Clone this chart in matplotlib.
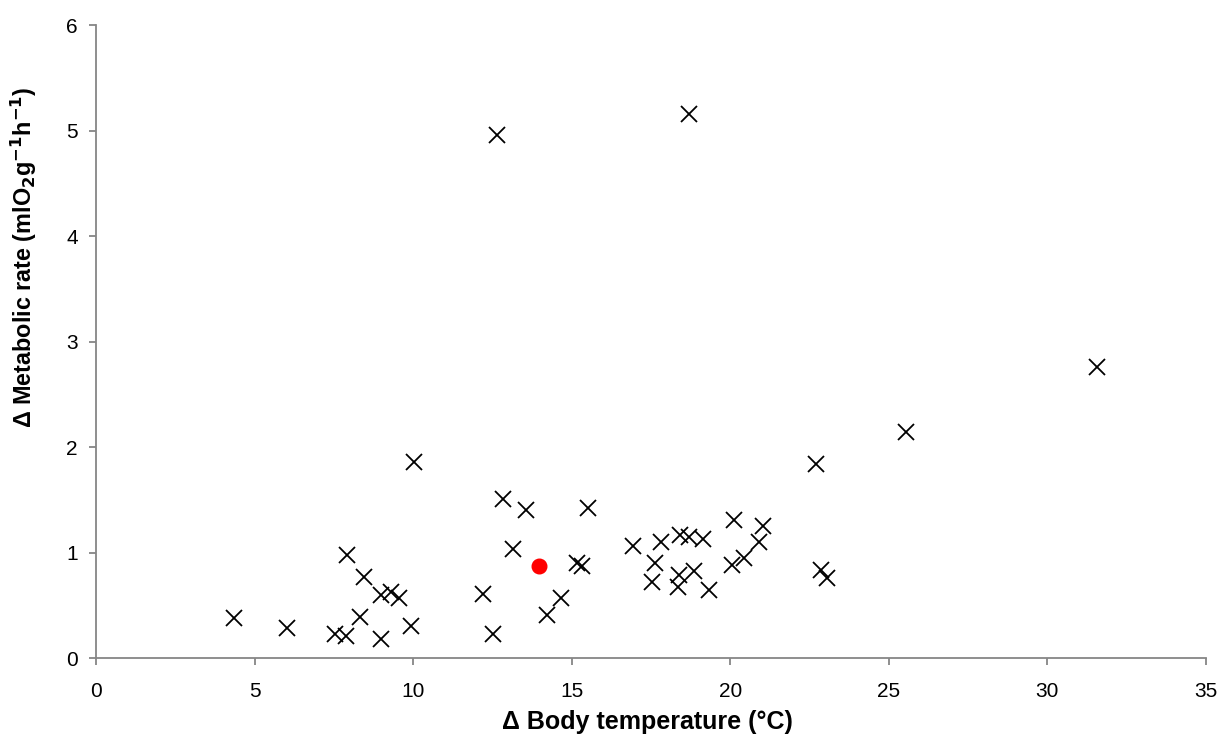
import matplotlib.pyplot as plt

plt.rcParams['font.family'] = ['Liberation Sans', 'DejaVu Sans']

# Delta body temperature (C) and delta metabolic rate (ml O2 g-1 h-1)
body_temp = [4.35, 6.02, 7.54, 7.88, 7.91, 8.45, 8.33, 9.0, 9.0, 9.29, 9.55, 9.92,
             10.03, 12.84, 13.56, 15.52, 13.15, 15.16, 15.31, 16.93, 12.2, 14.65,
             14.22, 12.52, 17.82, 18.42, 18.71, 19.15, 20.13, 21.04, 20.91, 20.43,
             20.07, 17.63, 17.52, 18.38, 18.34, 18.86, 19.34, 22.85, 23.04,
             12.65, 18.70, 22.71, 25.54, 31.57]
metabolic = [0.38, 0.28, 0.23, 0.21, 0.98, 0.77, 0.39, 0.18, 0.60, 0.63, 0.57, 0.30,
             1.86, 1.51, 1.40, 1.42, 1.03, 0.90, 0.87, 1.06, 0.61, 0.57,
             0.41, 0.23, 1.10, 1.17, 1.15, 1.13, 1.31, 1.25, 1.10, 0.95,
             0.88, 0.90, 0.72, 0.79, 0.67, 0.82, 0.64, 0.83, 0.76,
             4.96, 5.16, 1.84, 2.14, 2.76]

# highlighted species
mean_temp = [13.97]
mean_rate = [0.875]

fig = plt.figure(figsize=(12.27, 7.40), dpi=100)
ax = fig.add_axes([0.0782, 0.1108, 0.9047, 0.8554])

ax.plot(body_temp, metabolic, 'x', color='black', markersize=12, markeredgewidth=1.3)
ax.plot(mean_temp, mean_rate, 'o', color='#ff0000', markersize=10.5)

ax.set_xlim(0, 35)
ax.set_ylim(0, 6)
ax.set_xticks(range(0, 36, 5))
ax.set_yticks(range(0, 7))

for side in ['top', 'right']:
    ax.spines[side].set_visible(False)
for side in ['left', 'bottom']:
    ax.spines[side].set_color('#868686')
    ax.spines[side].set_linewidth(1.3)
ax.tick_params(axis='both', direction='out', length=5, width=1.3, color='#868686',
               labelsize=15)
ax.tick_params(axis='x', pad=12)
ax.tick_params(axis='y', pad=8)

ax.set_xlabel('Δ Body temperature (°C)', fontsize=18, fontweight='bold')
ax.xaxis.set_label_coords(0.497, -0.082)
ax.set_ylabel('Δ Metabolic rate (mlO$_\\mathbf{2}$g$^\\mathbf{-1}$h$^\\mathbf{-1}$)',
              fontsize=16.8, fontweight='bold')
ax.yaxis.set_label_coords(-0.051, 0.633)

fig.savefig('out.png', dpi=100)
